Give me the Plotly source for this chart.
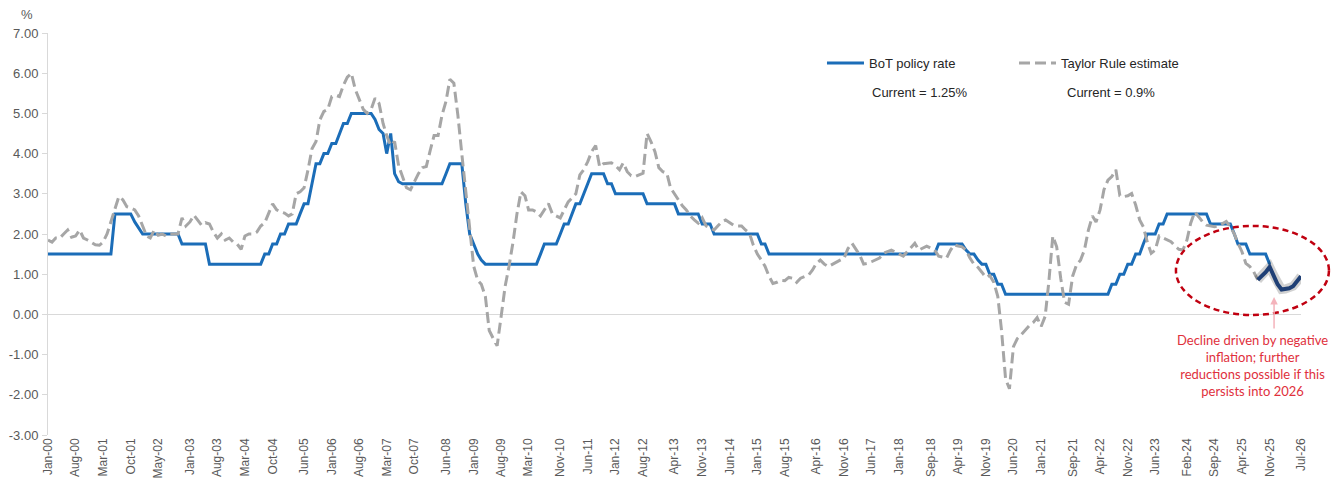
import pandas as pd
import plotly.graph_objects as go

# ---------------- data (monthly, Jan-2000 onwards) ----------------
policy_rate = [
    1.5, 1.5, 1.5, 1.5, 1.5, 1.5, 1.5, 1.5, 1.5, 1.5, 1.5, 1.5,            # 2000
    1.5, 1.5, 1.5, 1.5, 1.5, 2.5, 2.5, 2.5, 2.5, 2.5, 2.3, 2.15,           # 2001
    2.0, 2.0, 2.0, 2.0, 2.0, 2.0, 2.0, 2.0, 2.0, 2.0, 1.75, 1.75,          # 2002
    1.75, 1.75, 1.75, 1.75, 1.75, 1.25, 1.25, 1.25, 1.25, 1.25, 1.25, 1.25,  # 2003
    1.25, 1.25, 1.25, 1.25, 1.25, 1.25, 1.25, 1.5, 1.5, 1.75, 1.75, 2.0,   # 2004
    2.0, 2.25, 2.25, 2.25, 2.5, 2.75, 2.75, 3.25, 3.75, 3.75, 4.0, 4.0,    # 2005
    4.25, 4.25, 4.5, 4.75, 4.75, 5.0, 5.0, 5.0, 5.0, 5.0, 5.0, 4.85,       # 2006
    4.6, 4.5, 4.0, 4.5, 3.5, 3.3, 3.25, 3.25, 3.25, 3.25, 3.25, 3.25,      # 2007
    3.25, 3.25, 3.25, 3.25, 3.25, 3.5, 3.75, 3.75, 3.75, 3.75, 2.75, 2.0,  # 2008
    1.75, 1.5, 1.35, 1.25, 1.25, 1.25, 1.25, 1.25, 1.25, 1.25, 1.25, 1.25,  # 2009
    1.25, 1.25, 1.25, 1.25, 1.25, 1.5, 1.75, 1.75, 1.75, 1.75, 2.0, 2.25,  # 2010
    2.25, 2.5, 2.75, 2.75, 3.0, 3.25, 3.5, 3.5, 3.5, 3.5, 3.25, 3.25,      # 2011
    3.0, 3.0, 3.0, 3.0, 3.0, 3.0, 3.0, 3.0, 2.75, 2.75, 2.75, 2.75,        # 2012
    2.75, 2.75, 2.75, 2.75, 2.5, 2.5, 2.5, 2.5, 2.5, 2.5, 2.25, 2.25,      # 2013
    2.25, 2.0, 2.0, 2.0, 2.0, 2.0, 2.0, 2.0, 2.0, 2.0, 2.0, 2.0,           # 2014
    2.0, 1.75, 1.75, 1.5, 1.5, 1.5, 1.5, 1.5, 1.5, 1.5, 1.5, 1.5,          # 2015
    1.5, 1.5, 1.5, 1.5, 1.5, 1.5, 1.5, 1.5, 1.5, 1.5, 1.5, 1.5,            # 2016
    1.5, 1.5, 1.5, 1.5, 1.5, 1.5, 1.5, 1.5, 1.5, 1.5, 1.5, 1.5,            # 2017
    1.5, 1.5, 1.5, 1.5, 1.5, 1.5, 1.5, 1.5, 1.5, 1.5, 1.75, 1.75,          # 2018
    1.75, 1.75, 1.75, 1.75, 1.75, 1.6, 1.5, 1.5, 1.35, 1.25, 1.25, 1.0,    # 2019
    1.0, 0.75, 0.75, 0.5, 0.5, 0.5, 0.5, 0.5, 0.5, 0.5, 0.5, 0.5,          # 2020
    0.5, 0.5, 0.5, 0.5, 0.5, 0.5, 0.5, 0.5, 0.5, 0.5, 0.5, 0.5,            # 2021
    0.5, 0.5, 0.5, 0.5, 0.5, 0.5, 0.75, 0.75, 1.0, 1.0, 1.25, 1.25,        # 2022
    1.5, 1.5, 1.75, 2.0, 2.0, 2.0, 2.25, 2.25, 2.5, 2.5, 2.5, 2.5,         # 2023
    2.5, 2.5, 2.5, 2.5, 2.5, 2.5, 2.5, 2.25, 2.25, 2.25, 2.25, 2.25,       # 2024
    2.25, 2.0, 1.75, 1.75, 1.75, 1.5, 1.5, 1.5, 1.5, 1.5, 1.25,            # 2025 (to Nov)
]

taylor_rule = [
    1.85, 1.8, 1.9, 1.9, 2.0, 2.1, 1.92, 1.95, 2.1, 1.9, 1.85, 1.8,        # 2000
    1.73, 1.72, 1.8, 2.0, 2.3, 2.6, 2.93, 2.85, 2.68, 2.65, 2.6, 2.45,     # 2001
    2.2, 1.95, 1.9, 2.1, 1.97, 2.0, 1.95, 2.0, 2.0, 2.0, 2.4, 2.2,         # 2002
    2.3, 2.47, 2.35, 2.22, 2.28, 2.25, 2.05, 1.9, 2.0, 1.85, 1.9, 1.8,     # 2003
    1.75, 1.62, 1.95, 2.0, 2.0, 2.05, 2.2, 2.28, 2.52, 2.75, 2.6, 2.55,    # 2004
    2.52, 2.45, 2.5, 3.0, 3.05, 3.15, 3.59, 4.12, 4.3, 4.84, 5.05, 5.1,    # 2005
    5.42, 5.45, 5.42, 5.7, 5.9, 6.0, 5.6, 5.35, 5.1, 5.0, 5.1, 5.38,       # 2006
    5.25, 4.75, 4.45, 4.2, 4.3, 3.7, 3.4, 3.15, 3.1, 3.3, 3.5, 3.65,       # 2007
    3.68, 4.09, 4.45, 4.45, 4.95, 5.3, 5.85, 5.75, 4.95, 4.0, 3.1, 2.1,    # 2008
    1.2, 0.85, 0.75, 0.45, -0.4, -0.6, -0.78, -0.05, 0.7, 1.2, 1.8, 2.5,   # 2009
    3.05, 2.95, 2.6, 2.6, 2.55, 2.45, 2.6, 2.76, 2.5, 2.45, 2.4, 2.6,      # 2010
    2.8, 2.9, 3.0, 3.47, 3.6, 3.8, 4.05, 4.2, 3.67, 3.75, 3.76, 3.77,      # 2011
    3.7, 3.6, 3.77, 3.55, 3.45, 3.43, 3.47, 3.51, 4.5, 4.3, 4.05, 3.65,    # 2012
    3.55, 3.51, 3.15, 3.0, 2.85, 2.7, 2.6, 2.45, 2.35, 2.27, 2.4, 2.2,     # 2013
    2.15, 2.1, 2.2, 2.3, 2.35, 2.28, 2.22, 2.2, 2.2, 2.1, 2.02, 1.72,      # 2014
    1.5, 1.35, 1.2, 0.95, 0.77, 0.8, 0.85, 0.84, 0.92, 0.9, 0.8, 0.9,      # 2015
    0.95, 0.98, 1.1, 1.27, 1.35, 1.25, 1.19, 1.25, 1.3, 1.35, 1.4, 1.64,   # 2016
    1.77, 1.6, 1.48, 1.25, 1.27, 1.31, 1.35, 1.4, 1.52, 1.55, 1.6, 1.55,   # 2017
    1.5, 1.45, 1.55, 1.65, 1.77, 1.6, 1.65, 1.7, 1.65, 1.6, 1.45, 1.42,    # 2018
    1.4, 1.6, 1.73, 1.7, 1.68, 1.6, 1.4, 1.25, 1.17, 1.05, 0.92, 0.97,     # 2019
    0.8, 0.45, -0.4, -1.6, -1.85, -0.8, -0.6, -0.5, -0.38, -0.28, -0.2, -0.08,  # 2020
    -0.3, -0.05, 0.8, 1.95, 1.68, 0.9, 0.3, 0.25, 0.95, 1.23, 1.35, 1.6,   # 2021
    2.1, 2.45, 2.3, 2.6, 3.1, 3.34, 3.43, 3.6, 2.95, 2.93, 2.95, 3.01,     # 2022
    2.72, 2.35, 2.18, 1.8, 1.52, 1.6, 1.95, 1.9, 1.85, 1.81, 1.7, 1.62,    # 2023
    1.6, 1.85, 2.27, 2.55, 2.43, 2.3, 2.22, 2.2, 2.18, 2.2, 2.25, 2.31,    # 2024
    2.18, 2.0, 1.77, 1.56, 1.27, 1.19, 1.06, 0.86,                         # 2025 (to Aug)
]

# highlighted recent / projected Taylor Rule path (Aug-2025 to Jul-2026)
taylor_recent = [0.86, 0.95, 1.05, 1.18, 0.98, 0.75, 0.62, 0.63, 0.65, 0.7, 0.82, 0.95]

tick_labels = ["Jan-00", "Aug-00", "Mar-01", "Oct-01", "May-02", "Jan-03", "Aug-03",
               "Mar-04", "Oct-04", "Jun-05", "Jan-06", "Aug-06", "Mar-07", "Oct-07",
               "Jun-08", "Jan-09", "Aug-09", "Mar-10", "Nov-10", "Jun-11", "Jan-12",
               "Aug-12", "Apr-13", "Nov-13", "Jun-14", "Jan-15", "Aug-15", "Apr-16",
               "Nov-16", "Jun-17", "Jan-18", "Sep-18", "Apr-19", "Nov-19", "Jun-20",
               "Jan-21", "Sep-21", "Apr-22", "Nov-22", "Jun-23", "Feb-24", "Sep-24",
               "Apr-25", "Nov-25", "Jul-26"]

y_ticks = [-3, -2, -1, 0, 1, 2, 3, 4, 5, 6, 7]

start = pd.Timestamp("2000-01-01")
dates_policy = pd.date_range(start, periods=len(policy_rate), freq="MS")
dates_taylor = pd.date_range(start, periods=len(taylor_rule), freq="MS")
dates_recent = pd.date_range(dates_taylor[-1], periods=len(taylor_recent), freq="MS")
tick_vals = [pd.to_datetime(t, format="%b-%y") for t in tick_labels]

FONT = "Liberation Sans, Arial, sans-serif"

fig = go.Figure()
fig.add_trace(go.Scatter(
    x=dates_policy, y=policy_rate, mode="lines", name="BoT policy rate",
    line=dict(color="#1B6DB8", width=3)))
fig.add_trace(go.Scatter(
    x=dates_taylor, y=taylor_rule, mode="lines", name="Taylor Rule estimate",
    line=dict(color="#A6A6A6", width=3, dash="11px,5px")))
fig.add_trace(go.Scatter(
    x=dates_recent, y=taylor_recent, mode="lines", showlegend=False,
    line=dict(color="rgba(0,0,0,0.18)", width=9), hoverinfo="skip"))
fig.add_trace(go.Scatter(
    x=dates_recent, y=taylor_recent, mode="lines", showlegend=False,
    line=dict(color="#1F3F75", width=4)))

# the page body adds an 8px offset; the figure is sized so the plot area
# lands at x 48..1301, y 33..435 of the 1343x489 window
fig.update_layout(
    width=1335, height=481,
    margin=dict(l=40, r=42, t=25, b=54, autoexpand=False),
    paper_bgcolor="white", plot_bgcolor="white",
    font=dict(family=FONT, size=12, color="#595959"),
    showlegend=True,
    legend=dict(orientation="h", x=0.6177, xanchor="left", y=0.925, yanchor="middle",
                font=dict(family=FONT, size=13, color="#262626"),
                itemwidth=37, entrywidth=140, bgcolor="rgba(0,0,0,0)"),
    xaxis=dict(type="date", range=[start, pd.Timestamp("2026-07-01")],
               tickmode="array", tickvals=tick_vals, ticktext=tick_labels,
               tickangle=-90, showgrid=False, showline=False, zeroline=False,
               ticks="", automargin=False,
               tickfont=dict(family=FONT, size=12, color="#595959")),
    yaxis=dict(range=[-3, 7], tickmode="array", tickvals=y_ticks,
               ticktext=[f"{v:.2f}" for v in y_ticks],
               showgrid=False, showline=True, linecolor="#D9D9D9", linewidth=1,
               ticks="outside", ticklen=5, tickcolor="#D9D9D9", automargin=False,
               zeroline=True, zerolinecolor="#D9D9D9", zerolinewidth=1,
               ticklabelstandoff=1,
               tickfont=dict(family=FONT, size=13, color="#595959")),
)

# "%" unit label
fig.add_annotation(text="%", xref="paper", yref="paper", x=-0.017, y=1.045,
                   xanchor="center", yanchor="middle", showarrow=False,
                   font=dict(family=FONT, size=13, color="#595959"))
# current values under legend
fig.add_annotation(text="Current = 1.25%", xref="paper", yref="paper", x=0.656, y=0.853,
                   xanchor="left", yanchor="middle", showarrow=False,
                   font=dict(family=FONT, size=13, color="#262626"))
fig.add_annotation(text="Current = 0.9%", xref="paper", yref="paper", x=0.812, y=0.853,
                   xanchor="left", yanchor="middle", showarrow=False,
                   font=dict(family=FONT, size=13, color="#262626"))

# red dashed ellipse highlighting the recent decline
fig.add_shape(type="circle", xref="paper", yref="paper",
              x0=0.9002, x1=1.0223, y0=0.2985, y1=0.52,
              line=dict(color="#C00010", width=2.5, dash="6px,4px"))
# pink arrow
fig.add_annotation(text="", xref="paper", yref="paper", x=0.9785, y=0.343,
                   ax=0, ay=33, showarrow=True, arrowhead=2, arrowsize=1,
                   arrowwidth=1.5, arrowcolor="#F4B3BB")
# explanatory note
fig.add_annotation(text="Decline driven by negative<br>inflation; further<br>reductions possible if this<br>persists into 2026",
                   xref="paper", yref="paper", x=0.9616, y=0.262,
                   xanchor="center", yanchor="top",
                   align="center", showarrow=False,
                   font=dict(family="Lato, sans-serif", size=13, color="#E0303C"))

# light grey strip on the right edge
fig.add_shape(type="rect", xref="paper", yref="paper", x0=1.0272, x1=1.05,
              y0=-0.2, y1=1.1, line=dict(width=0), fillcolor="#EDEDED", layer="below")

fig.write_html("out.html")
